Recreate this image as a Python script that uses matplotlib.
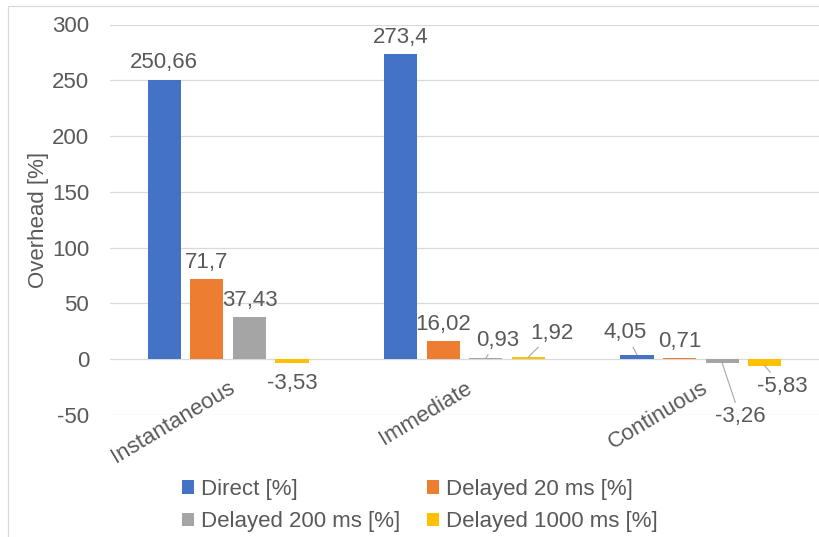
import matplotlib

matplotlib.use("Agg")

import matplotlib.pyplot as plt
import numpy as np
from matplotlib.patches import Patch, Rectangle


CATEGORIES = ["Instantaneous", "Immediate", "Continuous"]
SERIES_NAMES = [
    "Direct [%]",
    "Delayed 20 ms [%]",
    "Delayed 200 ms [%]",
    "Delayed 1000 ms [%]",
]
DIRECT = [250.66, 273.4, 4.05]
DELAYED_20 = [71.7, 16.02, 0.71]
DELAYED_200 = [37.43, 0.93, -3.26]
DELAYED_1000 = [-3.53, 1.92, -5.83]

SERIES_VALUES = [DIRECT, DELAYED_20, DELAYED_200, DELAYED_1000]
SERIES_COLORS = ["#4472C4", "#ED7D31", "#A5A5A5", "#FFC000"]

Y_TICKS = [-50, 0, 50, 100, 150, 200, 250, 300]

# Pomeraj natpisa (u tackama) za one koji ne stoje odmah iznad/ispod stubica,
# kljuc je (kategorija, serija); ovi dobijaju i liniju vodilju.
LEADER_OFFSETS = {
    (1, 2): (8.6, 13.0),
    (1, 3): (17.3, 17.3),
    (2, 0): (-8.6, 15.8),
    (2, 2): (13.0, -38.9),
    (2, 3): (13.0, -15.1),
}

TEXT_COLOR = "#595959"
GRID_COLOR = "#d9d9d9"
FONT_SIZE = 16

plt.rcParams["font.family"] = ["Liberation Sans", "DejaVu Sans"]
plt.rcParams["axes.unicode_minus"] = False


def format_value(value):
    """Vrednost sa decimalnim zarezom."""
    return f"{value:g}".replace(".", ",")


def add_value_label(axis, x, value, key):
    """Natpis vrednosti uz stubic, po potrebi sa linijom vodiljom."""
    if key in LEADER_OFFSETS:
        offset = LEADER_OFFSETS[key]
        arrow = dict(arrowstyle="-", color="#a6a6a6", lw=0.8,
                     shrinkA=1, shrinkB=0)
    else:
        offset = (0, 12.2) if value >= 0 else (0, -14.4)
        arrow = None

    axis.annotate(
        format_value(value),
        xy=(x, value),
        xytext=offset,
        textcoords="offset points",
        ha="center",
        va="center",
        fontsize=FONT_SIZE,
        color=TEXT_COLOR,
        arrowprops=arrow,
    )


def main():
    fig = plt.figure(figsize=(8.19, 5.37), dpi=100)
    axis = fig.add_axes([110 / 819, 122 / 537, 709 / 819, 390.5 / 537])

    x_positions = np.arange(len(CATEGORIES))
    slot = 0.18
    bar_width = 0.14

    for series_index, (values, color) in enumerate(
        zip(SERIES_VALUES, SERIES_COLORS)
    ):
        offset = (series_index - 1.5) * slot
        axis.bar(
            x_positions + offset,
            values,
            width=bar_width,
            color=color,
            zorder=3,
        )
        for category_index, value in enumerate(values):
            add_value_label(
                axis,
                category_index + offset,
                value,
                (category_index, series_index),
            )

    axis.set_xlim(-0.5, len(CATEGORIES) - 0.5)
    axis.set_ylim(-50, 300)
    axis.set_yticks(Y_TICKS)
    axis.tick_params(axis="y", length=0, pad=15, labelsize=FONT_SIZE,
                     labelcolor=TEXT_COLOR)
    axis.set_xticks([])
    axis.grid(axis="y", color=GRID_COLOR, linewidth=0.9, zorder=0)
    for spine in axis.spines.values():
        spine.set_visible(False)

    # Nazivi kategorija stoje ispod nulte linije, pod uglom.
    for category_index, name in enumerate(CATEGORIES):
        axis.annotate(
            name,
            xy=(category_index, 0),
            xytext=(0, -13),
            textcoords="offset points",
            rotation=31,
            rotation_mode="anchor",
            ha="right",
            va="top",
            fontsize=FONT_SIZE,
            color=TEXT_COLOR,
        )

    axis.set_ylabel("Overhead [%]", fontsize=FONT_SIZE, color=TEXT_COLOR)
    axis.yaxis.set_label_coords(-0.086, 0.5)

    handles = [
        Patch(facecolor=color, label=name)
        for name, color in zip(SERIES_NAMES, SERIES_COLORS)
    ]
    ordered = [handles[0], handles[2], handles[1], handles[3]]
    fig.legend(
        handles=ordered,
        loc="center",
        bbox_to_anchor=(420 / 819, 1 - 505.5 / 537),
        ncol=2,
        frameon=False,
        fontsize=FONT_SIZE,
        labelcolor=TEXT_COLOR,
        handlelength=0.55,
        handleheight=0.55,
        handletextpad=0.3,
        columnspacing=1.2,
        labelspacing=0.5,
    )

    # Tanak okvir oko celog grafikona.
    fig.add_artist(
        Rectangle(
            (8 / 819, -0.1),
            1.2,
            1.1 - 6 / 537,
            transform=fig.transFigure,
            fill=False,
            edgecolor=GRID_COLOR,
            linewidth=0.9,
        )
    )

    fig.savefig("out.png", dpi=100)
    plt.close(fig)


if __name__ == "__main__":
    main()
